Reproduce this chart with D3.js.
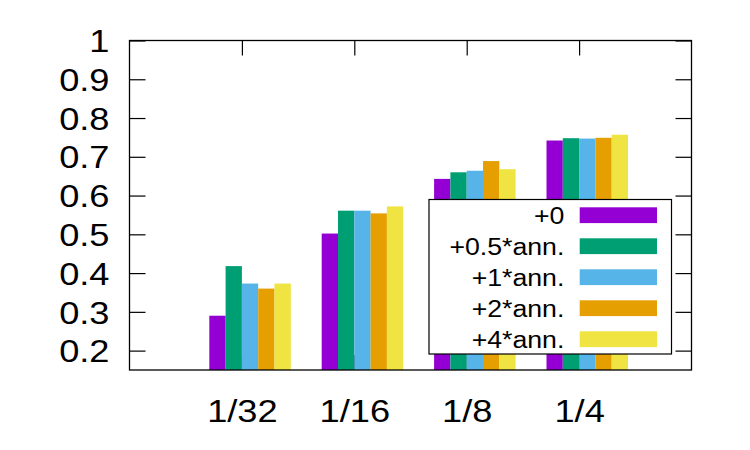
<!DOCTYPE html>
<html>
<head>
<meta charset="utf-8">
<script src="https://cdn.jsdelivr.net/npm/d3@7"></script>
<style>
  body { margin: 0; background: #fff; }
  text { font-family: "Liberation Sans", Arial, sans-serif; fill: #000; }
</style>
</head>
<body>
<div id="chart"></div>
<script>
// data
var categories = ["1/32", "1/16", "1/8", "1/4"];
var seriesNames = ["+0", "+0.5*ann.", "+1*ann.", "+2*ann.", "+4*ann."];
var seriesColors = ["#9400d3", "#009e73", "#56b4e9", "#e69f00", "#f0e442"];
var plus0   = [0.290, 0.502, 0.643, 0.742];
var plus05  = [0.418, 0.561, 0.660, 0.748];
var plus1   = [0.373, 0.561, 0.664, 0.747];
var plus2   = [0.360, 0.554, 0.689, 0.749];
var plus4   = [0.373, 0.572, 0.668, 0.757];
var series = [plus0, plus05, plus1, plus2, plus4];
var yTicks = [0.2, 0.3, 0.4, 0.5, 0.6, 0.7, 0.8, 0.9, 1];

// 1: dimensions
var W = 750, H = 450;
var plotL = 129.5, plotR = 691.5, plotT = 40.5, plotB = 370;
var stretch = "scale(1.15,1)";   // the glyphs in the picture are a bit wide

var svg = d3.select("#chart").append("svg")
    .attr("width", W)
    .attr("height", H);
svg.append("rect").attr("width", W).attr("height", H).attr("fill", "#fff");

// 2: scales
var x = d3.scaleLinear().domain([0, 5]).range([plotL, plotR]);
var y = d3.scaleLinear().domain([0.15, 1]).range([plotB, plotT]);
var barW = x(0.145) - x(0);

// 3: axes (ticks point inward, gnuplot style)
var yAxis = d3.axisLeft(y).tickValues(yTicks).tickSize(-16)
    .tickFormat(function(d) { return String(d); });
var yAxisR = d3.axisRight(y).tickValues(yTicks).tickSize(-16).tickFormat("");
var xAxis = d3.axisBottom(x).tickValues([1, 2, 3, 4]).tickSize(-15)
    .tickFormat(function(d) { return categories[d - 1]; });
var xAxisT = d3.axisTop(x).tickValues([1, 2, 3, 4]).tickSize(-15).tickFormat("");

var gy = svg.append("g").attr("transform", "translate(" + plotL + ",0)").call(yAxis);
svg.append("g").attr("transform", "translate(" + plotR + ",0)").call(yAxisR);
var gx = svg.append("g").attr("transform", "translate(0," + plotB + ")").call(xAxis);
svg.append("g").attr("transform", "translate(0," + plotT + ")").call(xAxisT);

svg.selectAll(".domain").remove();
svg.selectAll(".tick line").attr("stroke", "#000").attr("stroke-width", 1.2);

gy.selectAll("text")
    .attr("x", null).attr("dy", null)
    .attr("transform", "translate(-20,11.2) " + stretch)
    .style("font-size", "31.5px")
    .attr("font-family", null);
gx.selectAll("text")
    .attr("y", null).attr("dy", null)
    .attr("transform", "translate(0,51.5) " + stretch)
    .style("font-size", "31.5px")
    .attr("font-family", null);

// 4: bars
series.forEach(function(vals, j) {
  svg.append("g").selectAll("rect")
      .data(vals)
    .enter().append("rect")
      .attr("x", function(d, i) { return x(i + 1) + (j - 2) * barW; })
      .attr("y", function(d) { return y(d); })
      .attr("width", barW)
      .attr("height", function(d) { return y(0.15) - y(d); })
      .attr("fill", seriesColors[j]);
});

// 5: frame
svg.append("rect")
    .attr("x", plotL).attr("y", plotT)
    .attr("width", plotR - plotL).attr("height", plotB - plotT)
    .attr("fill", "none").attr("stroke", "#000").attr("stroke-width", 1.3);

// 6: legend
var legend = svg.append("g");
legend.append("rect")
    .attr("x", 429).attr("y", 199.5)
    .attr("width", 242.5).attr("height", 154.5)
    .attr("fill", "#fff").attr("stroke", "#000").attr("stroke-width", 1.2);

var rows = legend.selectAll(".row")
    .data(seriesNames)
  .enter().append("g")
    .attr("class", "row")
    .attr("transform", function(d, i) { return "translate(0," + (i * 31) + ")"; });
rows.append("rect")
    .attr("x", 579.7).attr("y", 207.3)
    .attr("width", 77.3).attr("height", 15.8)
    .attr("fill", function(d, i) { return seriesColors[i]; });
rows.append("text")
    .attr("text-anchor", "end")
    .attr("transform", "translate(564.3,224) scale(1.16,1)")
    .style("font-size", "23px")
    .text(function(d) { return d; });
</script>
</body>
</html>
